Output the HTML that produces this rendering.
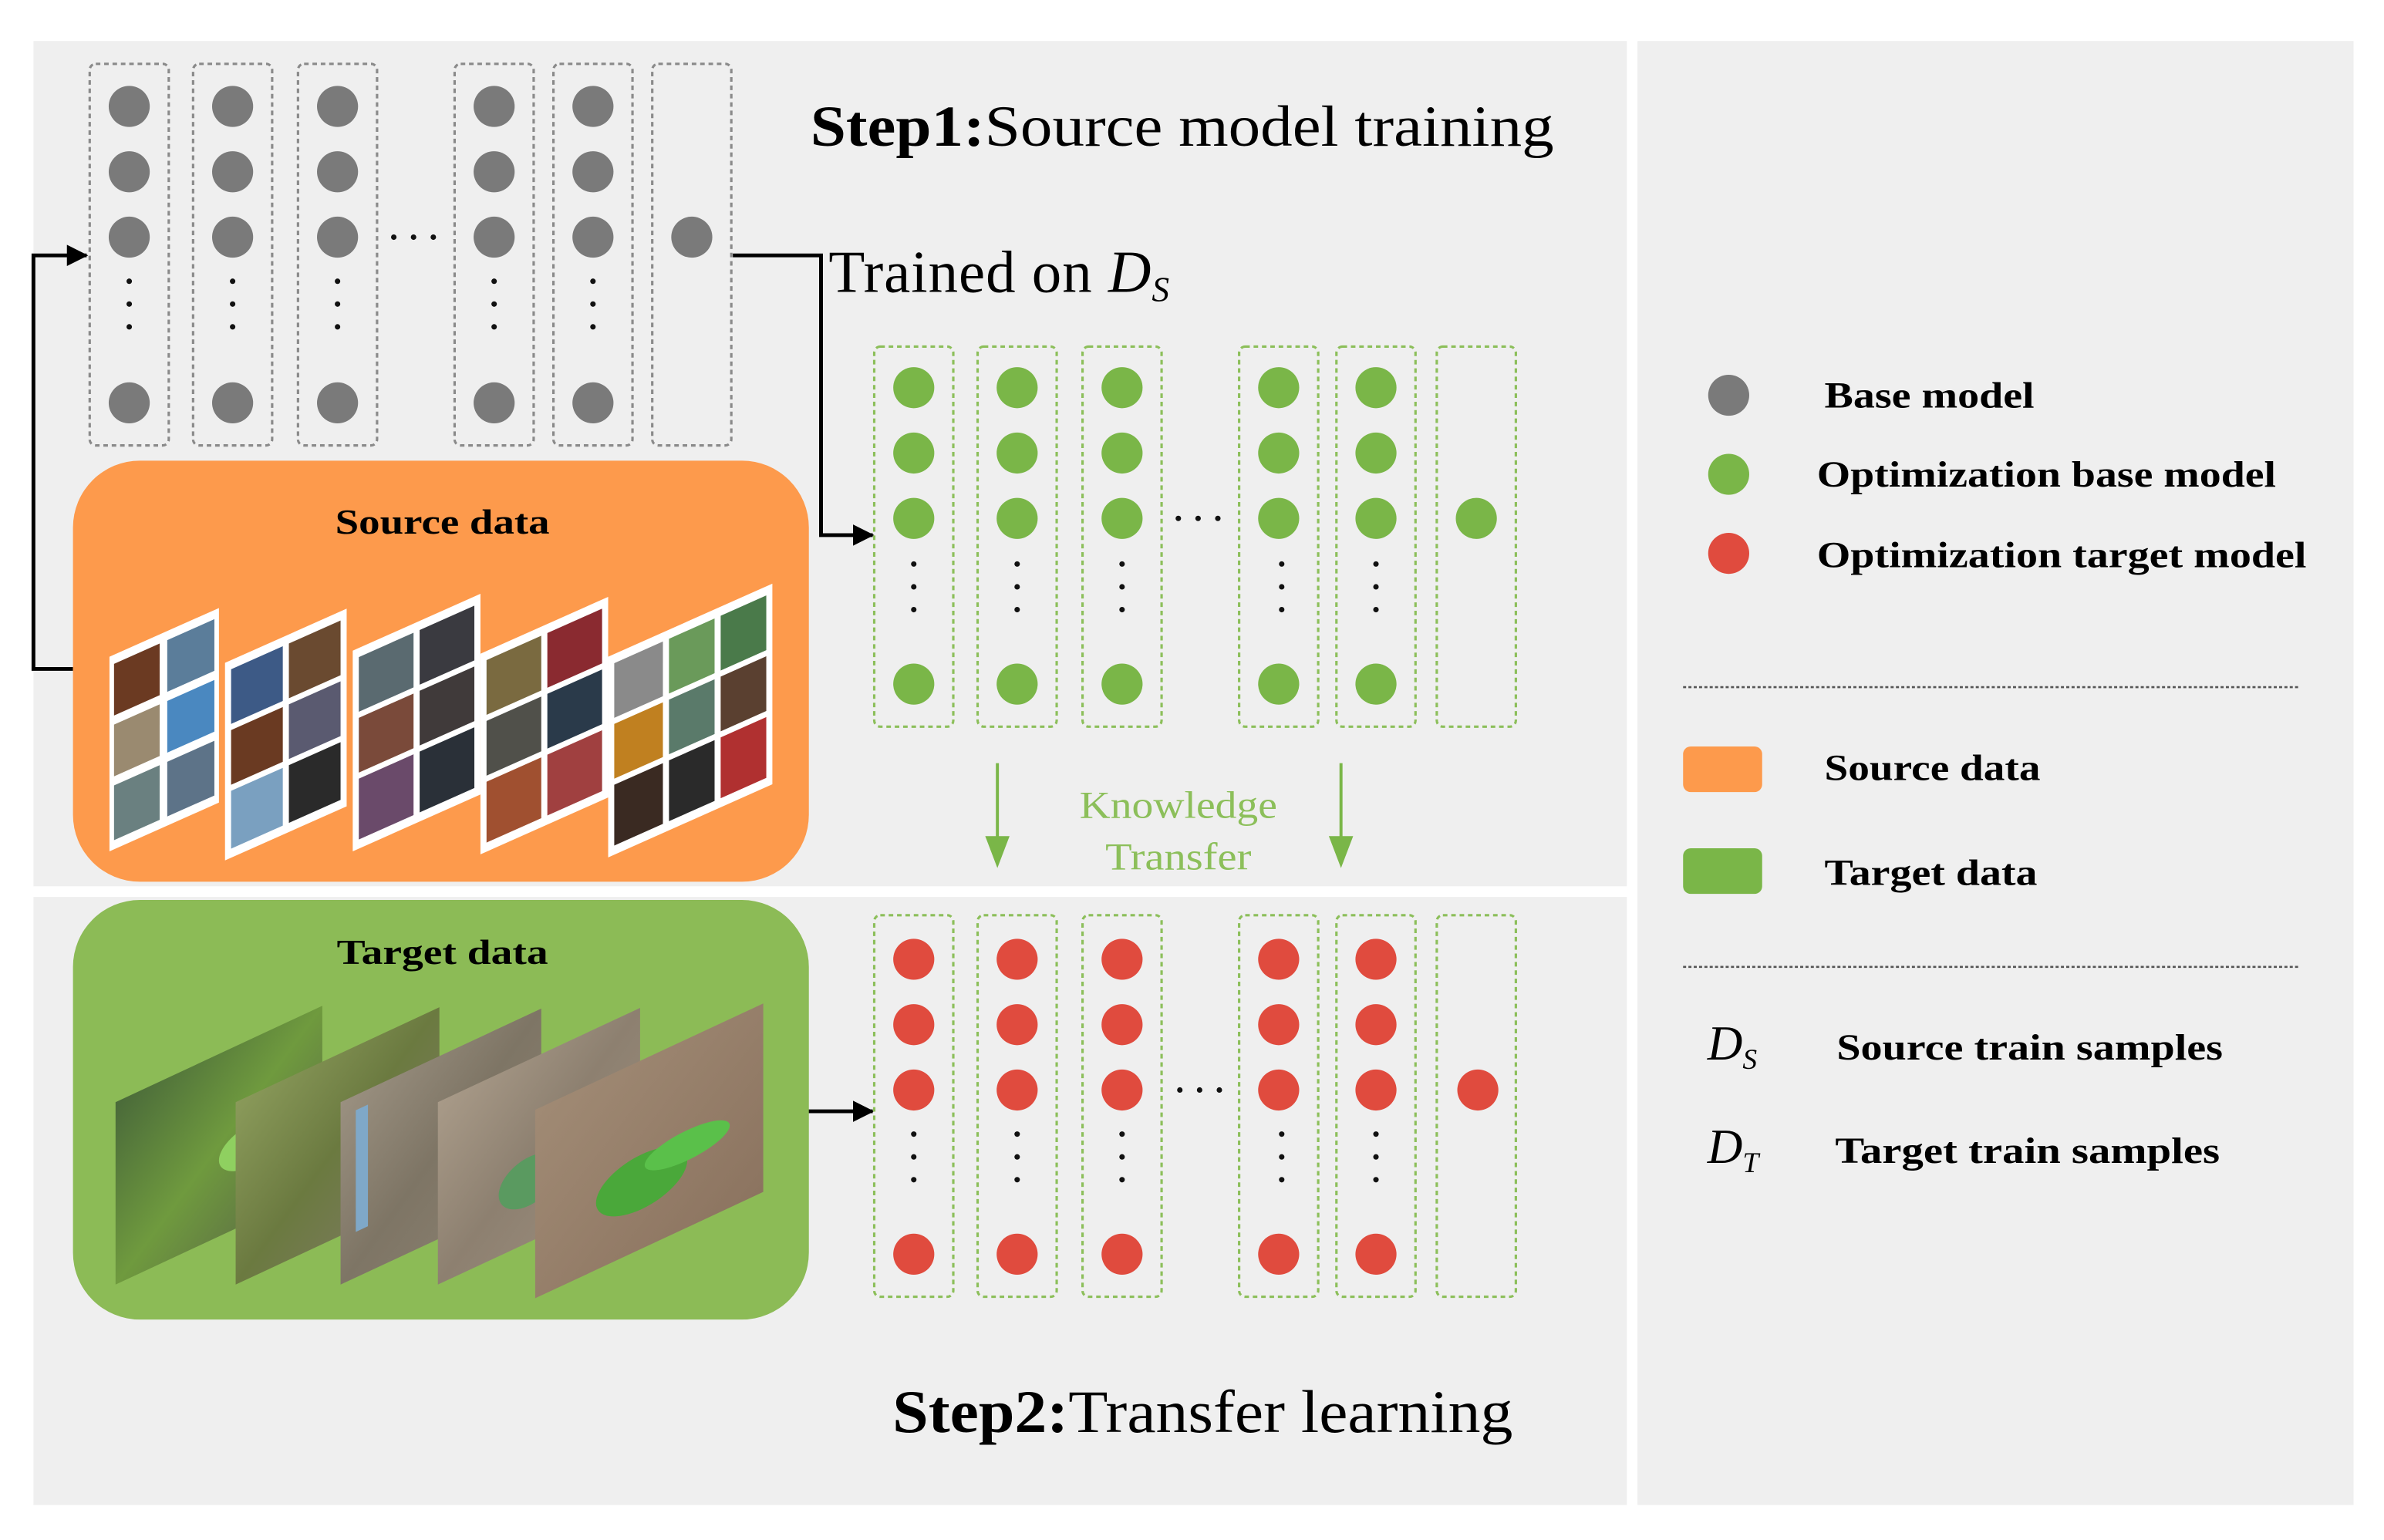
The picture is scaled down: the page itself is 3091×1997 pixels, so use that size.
<!DOCTYPE html>
<html><head><meta charset="utf-8"><style>html,body{margin:0;padding:0;background:#fff}svg{display:block}</style></head>
<body>
<svg width="3091" height="1997" viewBox="0 0 1568 1013" preserveAspectRatio="none" xmlns="http://www.w3.org/2000/svg" font-family="Liberation Serif, serif">
<defs>
<marker id="ah" markerWidth="14" markerHeight="14" refX="13" refY="7" orient="auto" markerUnits="userSpaceOnUse"><path d="M0,0 L14,7 L0,14 z" fill="#000"/></marker>
<linearGradient id="g1" x1="0" y1="0" x2="1" y2="1"><stop offset="0" stop-color="#4a6a3a"/><stop offset=".5" stop-color="#6f9a3e"/><stop offset="1" stop-color="#5c6b45"/></linearGradient>
<linearGradient id="g2" x1="0" y1="0" x2="1" y2="1"><stop offset="0" stop-color="#8a9a5a"/><stop offset=".5" stop-color="#6b7a40"/><stop offset="1" stop-color="#7d7a60"/></linearGradient>
<linearGradient id="g3" x1="0" y1="0" x2="1" y2="1"><stop offset="0" stop-color="#9a9080"/><stop offset=".5" stop-color="#7e7565"/><stop offset="1" stop-color="#8a8070"/></linearGradient>
<linearGradient id="g4" x1="0" y1="0" x2="1" y2="1"><stop offset="0" stop-color="#a89a88"/><stop offset=".5" stop-color="#8d8070"/><stop offset="1" stop-color="#9a8c7c"/></linearGradient>
<linearGradient id="g5" x1="0" y1="0" x2="1" y2="1"><stop offset="0" stop-color="#a08a74"/><stop offset="1" stop-color="#8c7460"/></linearGradient>
<g id="colg"><circle cx="0" cy="70" r="13.5"/><circle cx="0" cy="113" r="13.5"/><circle cx="0" cy="156" r="13.5"/><circle cx="0" cy="265" r="13.5"/></g>
<g id="colgr"><circle cx="0" cy="255" r="13.5"/><circle cx="0" cy="298" r="13.5"/><circle cx="0" cy="341" r="13.5"/><circle cx="0" cy="450" r="13.5"/></g>
<g id="colr"><circle cx="0" cy="631" r="13.5"/><circle cx="0" cy="674" r="13.5"/><circle cx="0" cy="717" r="13.5"/><circle cx="0" cy="825" r="13.5"/></g>
<g id="dotsA"><circle cx="0" cy="185" r="1.8"/><circle cx="0" cy="200" r="1.8"/><circle cx="0" cy="215" r="1.8"/></g>
<g id="dotsB"><circle cx="0" cy="371" r="1.8"/><circle cx="0" cy="386" r="1.8"/><circle cx="0" cy="401" r="1.8"/></g>
<g id="dotsC"><circle cx="0" cy="746" r="1.8"/><circle cx="0" cy="761" r="1.8"/><circle cx="0" cy="776" r="1.8"/></g>
</defs>
<rect x="0" y="0" width="1568" height="1013" fill="#fff"/>
<rect x="22" y="27" width="1048" height="556" fill="#efefef"/>
<rect x="22" y="590" width="1048" height="400" fill="#efefef"/>
<rect x="1077" y="27" width="471" height="963" fill="#efefef"/>

<!-- Top network (gray) -->
<g fill="none" stroke="#8a8a8a" stroke-width="1.6" stroke-dasharray="3,2.5">
<rect x="59" y="42" width="52" height="251" rx="4"/><rect x="127" y="42" width="52" height="251" rx="4"/><rect x="196" y="42" width="52" height="251" rx="4"/>
<rect x="299" y="42" width="52" height="251" rx="4"/><rect x="364" y="42" width="52" height="251" rx="4"/><rect x="429" y="42" width="52" height="251" rx="4"/>
</g>
<g fill="#7a7a7a">
<use href="#colg" x="85"/><use href="#colg" x="153"/><use href="#colg" x="222"/><use href="#colg" x="325"/><use href="#colg" x="390"/>
<circle cx="455" cy="156" r="13.5"/>
</g>
<g fill="#111">
<use href="#dotsA" x="85"/><use href="#dotsA" x="153"/><use href="#dotsA" x="222"/><use href="#dotsA" x="325"/><use href="#dotsA" x="390"/>
<circle cx="259" cy="156" r="1.8"/><circle cx="272" cy="156" r="1.8"/><circle cx="285" cy="156" r="1.8"/>
</g>

<!-- connectors -->
<polyline points="48,440 22,440 22,168 57,168" fill="none" stroke="#000" stroke-width="2.5" marker-end="url(#ah)"/>
<polyline points="482,168 540,168 540,352 574,352" fill="none" stroke="#000" stroke-width="2.5" marker-end="url(#ah)"/>
<line x1="531" y1="731" x2="574" y2="731" stroke="#000" stroke-width="2.5" marker-end="url(#ah)"/>

<text x="533" y="96" font-size="38" textLength="489" lengthAdjust="spacingAndGlyphs"><tspan font-weight="bold">Step1:</tspan>Source model training</text>
<text x="545" y="192" font-size="39" letter-spacing="0.5">Trained on <tspan font-style="italic">D</tspan><tspan font-style="italic" font-size="23" dy="6">S</tspan></text>

<!-- Green network -->
<g fill="none" stroke="#8cbf5a" stroke-width="1.6" stroke-dasharray="3,2.5">
<rect x="575" y="228" width="52" height="250" rx="4"/><rect x="643" y="228" width="52" height="250" rx="4"/><rect x="712" y="228" width="52" height="250" rx="4"/>
<rect x="815" y="228" width="52" height="250" rx="4"/><rect x="879" y="228" width="52" height="250" rx="4"/><rect x="945" y="228" width="52" height="250" rx="4"/>
<rect x="575" y="602" width="52" height="251" rx="4"/><rect x="643" y="602" width="52" height="251" rx="4"/><rect x="712" y="602" width="52" height="251" rx="4"/>
<rect x="815" y="602" width="52" height="251" rx="4"/><rect x="879" y="602" width="52" height="251" rx="4"/><rect x="945" y="602" width="52" height="251" rx="4"/>
</g>
<g fill="#7ab648"><use href="#colgr" x="601"/><use href="#colgr" x="669"/><use href="#colgr" x="738"/><use href="#colgr" x="841"/><use href="#colgr" x="905"/><circle cx="971" cy="341" r="13.5"/></g>
<g fill="#111">
<use href="#dotsB" x="601"/><use href="#dotsB" x="669"/><use href="#dotsB" x="738"/><use href="#dotsB" x="843"/><use href="#dotsB" x="905"/>
<circle cx="775" cy="341" r="1.8"/><circle cx="788" cy="341" r="1.8"/><circle cx="801" cy="341" r="1.8"/>
</g>

<!-- Red network -->
<g fill="#e04b3e"><use href="#colr" x="601"/><use href="#colr" x="669"/><use href="#colr" x="738"/><use href="#colr" x="841"/><use href="#colr" x="905"/><circle cx="972" cy="717" r="13.5"/></g>
<g fill="#111">
<use href="#dotsC" x="601"/><use href="#dotsC" x="669"/><use href="#dotsC" x="738"/><use href="#dotsC" x="843"/><use href="#dotsC" x="905"/>
<circle cx="776" cy="717" r="1.8"/><circle cx="789" cy="717" r="1.8"/><circle cx="802" cy="717" r="1.8"/>
</g>

<!-- knowledge transfer -->
<g stroke="#7ab648" stroke-width="2" fill="#7ab648">
<line x1="656" y1="502" x2="656" y2="555"/><path d="M648,550 L664,550 L656,571 z" stroke="none"/>
<line x1="882" y1="502" x2="882" y2="555"/><path d="M874,550 L890,550 L882,571 z" stroke="none"/>
</g>
<text x="775" y="538" font-size="25" fill="#8cbf5a" text-anchor="middle" textLength="130" lengthAdjust="spacingAndGlyphs">Knowledge</text>
<text x="775" y="572" font-size="25" fill="#8cbf5a" text-anchor="middle" textLength="96" lengthAdjust="spacingAndGlyphs">Transfer</text>

<text x="587" y="942" font-size="40" textLength="408" lengthAdjust="spacingAndGlyphs"><tspan font-weight="bold">Step2:</tspan>Transfer learning</text>

<!-- Source data box -->
<rect x="48" y="303" width="484" height="277" rx="44" fill="#fd9a4c"/>
<text x="291" y="351" font-size="23" font-weight="bold" text-anchor="middle" textLength="141" lengthAdjust="spacingAndGlyphs">Source data</text>
<g>
<g transform="translate(72,432) skewY(-24)"><rect width="72" height="128" fill="#fff"/>
<rect x="3" y="6" width="30" height="34" fill="#6b3a22"/><rect x="38" y="6" width="31" height="34" fill="#5b7d9a"/>
<rect x="3" y="46" width="30" height="34" fill="#9a8a70"/><rect x="38" y="46" width="31" height="34" fill="#4a88c0"/>
<rect x="3" y="86" width="30" height="36" fill="#6a8080"/><rect x="38" y="86" width="31" height="36" fill="#5d7388"/></g>
<g transform="translate(148,436) skewY(-24)"><rect width="80" height="130" fill="#fff"/>
<rect x="4" y="6" width="34" height="36" fill="#3d5a86"/><rect x="42" y="6" width="34" height="36" fill="#6a4a30"/>
<rect x="4" y="46" width="34" height="36" fill="#6a3a22"/><rect x="42" y="46" width="34" height="36" fill="#5a5a70"/>
<rect x="4" y="86" width="34" height="38" fill="#7aa0c0"/><rect x="42" y="86" width="34" height="38" fill="#2a2a2a"/></g>
<g transform="translate(232,428) skewY(-24)"><rect width="84" height="132" fill="#fff"/>
<rect x="4" y="6" width="36" height="36" fill="#5a6a70"/><rect x="44" y="6" width="36" height="36" fill="#3a3a40"/>
<rect x="4" y="46" width="36" height="36" fill="#7a4a3a"/><rect x="44" y="46" width="36" height="36" fill="#403a3a"/>
<rect x="4" y="86" width="36" height="40" fill="#6a4a6a"/><rect x="44" y="86" width="36" height="40" fill="#2a3038"/></g>
<g transform="translate(316,430) skewY(-24)"><rect width="84" height="132" fill="#fff"/>
<rect x="4" y="6" width="36" height="36" fill="#7a6a40"/><rect x="44" y="6" width="36" height="36" fill="#8a2a30"/>
<rect x="4" y="46" width="36" height="36" fill="#50504a"/><rect x="44" y="46" width="36" height="36" fill="#2a3a4a"/>
<rect x="4" y="86" width="36" height="40" fill="#a05030"/><rect x="44" y="86" width="36" height="40" fill="#a04040"/></g>
<g transform="translate(400,432) skewY(-24)"><rect width="108" height="132" fill="#fff"/>
<rect x="4" y="6" width="32" height="36" fill="#8a8a8a"/><rect x="40" y="6" width="30" height="36" fill="#6a9a5a"/><rect x="74" y="6" width="30" height="36" fill="#4a7a4a"/>
<rect x="4" y="46" width="32" height="36" fill="#c08020"/><rect x="40" y="46" width="30" height="36" fill="#5a7a6a"/><rect x="74" y="46" width="30" height="36" fill="#5a4030"/>
<rect x="4" y="86" width="32" height="40" fill="#3a2a22"/><rect x="40" y="86" width="30" height="40" fill="#2a2a2a"/><rect x="74" y="86" width="30" height="40" fill="#b03030"/></g>
</g>

<!-- Target data box -->
<rect x="48" y="592" width="484" height="276" rx="44" fill="#8cbb56"/>
<text x="291" y="634" font-size="23" font-weight="bold" text-anchor="middle" textLength="139" lengthAdjust="spacingAndGlyphs">Target data</text>
<g>
<g transform="translate(76,725) skewY(-25)"><rect width="136" height="120" fill="url(#g1)"/><ellipse cx="90" cy="70" rx="22" ry="14" fill="#8fd060"/></g>
<g transform="translate(155,725) skewY(-25)"><rect width="134" height="120" fill="url(#g2)"/></g>
<g transform="translate(224,725) skewY(-25)"><rect width="132" height="120" fill="url(#g3)"/><rect x="10" y="10" width="8" height="80" fill="#7fa8c8"/></g>
<g transform="translate(288,725) skewY(-25)"><rect width="133" height="120" fill="url(#g4)"/><ellipse cx="60" cy="80" rx="20" ry="16" fill="#5a9a60"/></g>
<g transform="translate(352,730) skewY(-25)"><rect width="150" height="124" fill="url(#g5)"/><ellipse cx="70" cy="80" rx="30" ry="18" fill="#4aa83a"/><ellipse cx="100" cy="70" rx="28" ry="10" fill="#5ac04a"/></g>
</g>

<!-- Legend -->
<circle cx="1137" cy="260" r="13.5" fill="#7a7a7a"/>
<circle cx="1137" cy="312" r="13.5" fill="#7ab648"/>
<circle cx="1137" cy="364" r="13.5" fill="#e04b3e"/>
<g font-size="24" font-weight="bold">
<text x="1200" y="268" textLength="138" lengthAdjust="spacingAndGlyphs">Base model</text>
<text x="1195" y="320" textLength="302" lengthAdjust="spacingAndGlyphs">Optimization base model</text>
<text x="1195" y="373" textLength="322" lengthAdjust="spacingAndGlyphs">Optimization target model</text>
<text x="1200" y="513" textLength="142" lengthAdjust="spacingAndGlyphs">Source data</text>
<text x="1200" y="582" textLength="140" lengthAdjust="spacingAndGlyphs">Target data</text>
<text x="1208" y="697" textLength="254" lengthAdjust="spacingAndGlyphs">Source train samples</text>
<text x="1207" y="765" textLength="253" lengthAdjust="spacingAndGlyphs">Target train samples</text>
</g>
<line x1="1107" y1="452" x2="1512" y2="452" stroke="#555" stroke-width="1.3" stroke-dasharray="2,1.5"/>
<line x1="1107" y1="636" x2="1512" y2="636" stroke="#555" stroke-width="1.3" stroke-dasharray="2,1.5"/>
<rect x="1107" y="491" width="52" height="30" rx="5" fill="#fd9a4c"/>
<rect x="1107" y="558" width="52" height="30" rx="5" fill="#7ab648"/>
<text x="1123" y="697" font-size="32" font-style="italic">D<tspan font-size="19" dy="6">S</tspan></text>
<text x="1123" y="765" font-size="32" font-style="italic">D<tspan font-size="19" dy="6">T</tspan></text>
</svg>
</body></html>
